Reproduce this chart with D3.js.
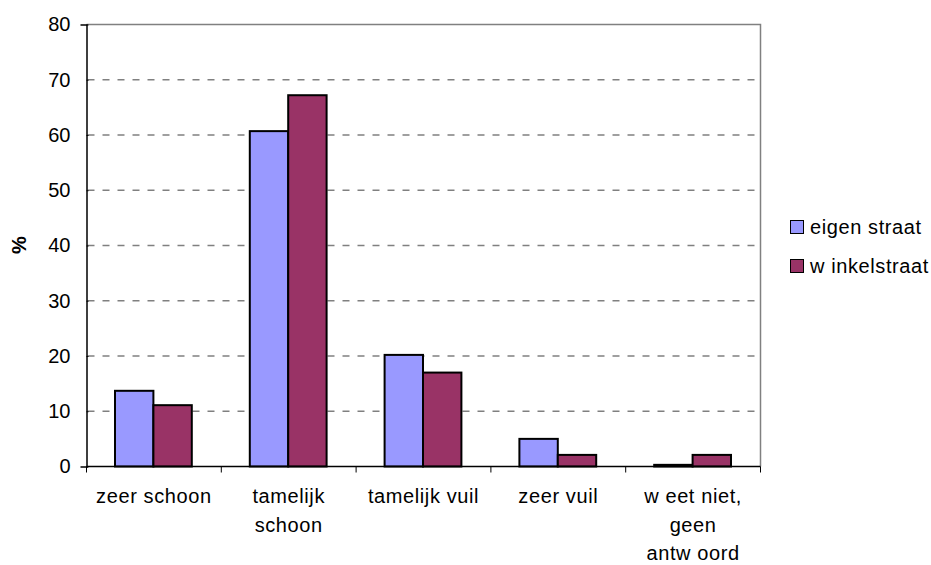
<!DOCTYPE html>
<html>
<head>
<meta charset="utf-8">
<script src="https://cdn.jsdelivr.net/npm/d3@7"></script>
<style>
  body { margin: 0; background: #fff; }
  text { font-family: "Liberation Sans", Arial, sans-serif; }
</style>
</head>
<body>
<svg id="chart"></svg>
<script>
/////////////// data ////////////////
const CATEGORIES = ["zeer schoon", "tamelijk schoon", "tamelijk vuil", "zeer vuil", "weet niet"];
const CAT_LABELS = [["zeer schoon"], ["tamelijk", "schoon"], ["tamelijk vuil"], ["zeer vuil"], ["w eet niet,", "geen", "antw oord"]];
const SERIES = ["eigen straat", "w inkelstraat"];
const EIGEN = [13.7, 60.7, 20.2, 5.0, 0.3];
const WINKEL = [11.1, 67.2, 17.0, 2.1, 2.1];
const Y_TICKS = [0, 10, 20, 30, 40, 50, 60, 70, 80];

/////////////// layout ////////////////
const W = 931;
const H = 565;
const PLOT_L = 86.5;
const PLOT_R = 760.5;
const PLOT_T = 24.5;
const PLOT_B = 466.5;
const FILLS = ["#9999FF", "#993366"];
const FONT_SZ = 20;

const SVG = d3.select("#chart")
    .attr("width", W)
    .attr("height", H);

const X0 = d3.scaleBand()
    .domain(CATEGORIES)
    .range([PLOT_L, PLOT_R]);
// bars take the middle of each category
const X1 = d3.scaleBand()
    .domain(SERIES)
    .range([28.5, X0.bandwidth() - 29.5]);
const Y = d3.scaleLinear()
    .domain([0, 80])
    .range([PLOT_B, PLOT_T]);

// dashed gridlines
SVG.append("g")
    .selectAll("line")
    .data(Y_TICKS.filter(d => d > 0 && d < 80))
    .enter()
    .append("line")
    .attr("x1", PLOT_L + 1)
    .attr("x2", PLOT_R - 5)
    .attr("y1", d => Y(d))
    .attr("y2", d => Y(d))
    .attr("stroke", "#808080")
    .attr("stroke-width", 1.5)
    .attr("stroke-dasharray", "7,8");

// top and right frame
SVG.append("path")
    .attr("d", `M${PLOT_L},${PLOT_T}H${PLOT_R}V${PLOT_B}`)
    .attr("fill", "none")
    .attr("stroke", "#808080")
    .attr("stroke-width", 1.5);

// bars
const rows = CATEGORIES.map((c, i) => ({ cat: c, vals: [EIGEN[i], WINKEL[i]] }));
SVG.append("g")
    .selectAll("g")
    .data(rows)
    .enter()
    .append("g")
    .attr("transform", d => `translate(${X0(d.cat)},0)`)
    .selectAll("rect")
    .data(d => d.vals.map((v, j) => ({ s: SERIES[j], v: v, j: j })))
    .enter()
    .append("rect")
    .attr("x", d => X1(d.s))
    .attr("y", d => Y(d.v))
    .attr("width", X1.bandwidth())
    .attr("height", d => PLOT_B - Y(d.v))
    .attr("fill", d => FILLS[d.j])
    .attr("stroke", "#000")
    .attr("stroke-width", 2);

// y axis
const yAxis = SVG.append("g")
    .attr("transform", `translate(${PLOT_L},0)`)
    .call(d3.axisLeft(Y).tickValues(Y_TICKS).tickSize(6).tickPadding(10));
yAxis.select(".domain").attr("stroke", "#000").attr("stroke-width", 1.5);
yAxis.selectAll(".tick line").attr("stroke", "#000").attr("x2", 2);
yAxis.selectAll(".tick text")
    .attr("font-size", FONT_SZ)
    .attr("fill", "#000")
    .style("font-family", "Liberation Sans, Arial, sans-serif");

// x axis
SVG.append("line")
    .attr("x1", PLOT_L)
    .attr("x2", PLOT_R)
    .attr("y1", PLOT_B)
    .attr("y2", PLOT_B)
    .attr("stroke", "#000")
    .attr("stroke-width", 1.5);
SVG.append("g")
    .selectAll("line")
    .data(CATEGORIES.concat(["end"]))
    .enter()
    .append("line")
    .attr("x1", (d, i) => PLOT_L + i * X0.step())
    .attr("x2", (d, i) => PLOT_L + i * X0.step())
    .attr("y1", PLOT_B)
    .attr("y2", PLOT_B + 6)
    .attr("stroke", "#000");

// category labels, split into lines
const catText = SVG.append("g")
    .selectAll("text")
    .data(CATEGORIES)
    .enter()
    .append("text")
    .attr("x", d => X0(d) + X0.bandwidth() / 2)
    .attr("y", 503)
    .attr("text-anchor", "middle")
    .attr("font-size", FONT_SZ)
    .attr("letter-spacing", 0.6);
catText.selectAll("tspan")
    .data((d, i) => CAT_LABELS[i])
    .enter()
    .append("tspan")
    .attr("x", function () { return this.parentNode.getAttribute("x"); })
    .attr("dy", (d, i) => i == 0 ? 0 : 28.5)
    .text(d => d);

// y title
SVG.append("text")
    .attr("transform", "translate(26,245) rotate(-90)")
    .attr("text-anchor", "middle")
    .attr("font-size", FONT_SZ)
    .attr("font-weight", "bold")
    .text("%");

// legend
const LEG = SVG.append("g")
    .selectAll("g")
    .data(SERIES)
    .enter()
    .append("g")
    .attr("transform", (d, i) => `translate(790,${234 + i * 39})`);
LEG.append("rect")
    .attr("x", 0.5)
    .attr("y", -13.5)
    .attr("width", 13)
    .attr("height", 13)
    .attr("fill", (d, i) => FILLS[i])
    .attr("stroke", "#000");
LEG.append("text")
    .attr("x", 20)
    .attr("y", 0)
    .attr("font-size", FONT_SZ)
    .attr("letter-spacing", 0.6)
    .text(d => d);
</script>
</body>
</html>
